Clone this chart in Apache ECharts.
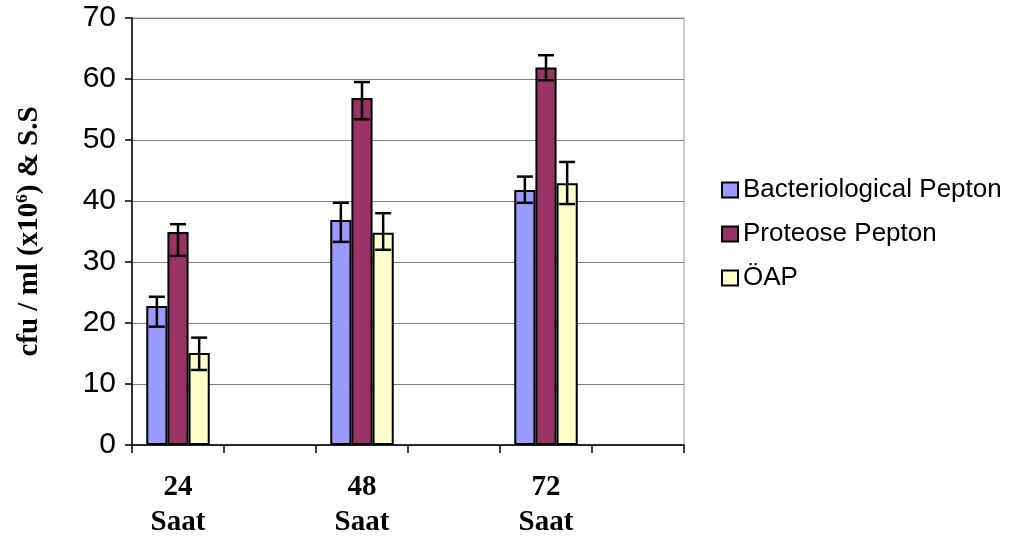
<!DOCTYPE html>
<html>
<head>
<meta charset="utf-8">
<script src="https://cdn.jsdelivr.net/npm/echarts@6/dist/echarts.min.js"></script>
<style>html,body{margin:0;padding:0;background:#fff}#c{width:1015px;height:545px}</style>
</head>
<body>
<div id="c"></div>
<script>
// Category slots (Excel chart with blank slots between groups)
const categories = ['24\nSaat', '', '48\nSaat', '', '72\nSaat', ''];
const seriesNames = ['Bacteriological Pepton', 'Proteose Pepton', 'ÖAP'];

const bacteriological = [22.8, null, 36.9, null, 41.8, null];
const proteose        = [34.9, null, 56.9, null, 61.9, null];
const oap             = [15.1, null, 34.8, null, 42.9, null];

// Error bars (low / high ends)
const bacteriologicalLow  = [19.4, null, 33.3, null, 39.7, null];
const bacteriologicalHigh = [24.3, null, 39.7, null, 44.0, null];
const proteoseLow         = [31.0, null, 53.4, null, 59.8, null];
const proteoseHigh        = [36.2, null, 59.5, null, 63.9, null];
const oapLow              = [12.3, null, 32.0, null, 39.5, null];
const oapHigh             = [17.6, null, 38.0, null, 46.4, null];

const yTicks = {min: 0, max: 70, interval: 10};

const colors = ['#9999FF', '#993366', '#FFFFCC'];
const gapRatio = 0.31;

const values = [bacteriological, proteose, oap];
const lows = [bacteriologicalLow, proteoseLow, oapLow];
const highs = [bacteriologicalHigh, proteoseHigh, oapHigh];

function errData(lo, hi) {
  const out = [];
  lo.forEach((v, i) => { if (v != null) out.push([i, v, hi[i]]); });
  return out;
}

function errSeries(k) {
  return {
    type: 'custom',
    name: 'err' + k,
    z: 5,
    data: errData(lows[k], highs[k]),
    encode: {x: 0, y: [1, 2]},
    renderItem: function (params, api) {
      const xi = api.value(0);
      const lo = api.coord([xi, api.value(1)]);
      const hi = api.coord([xi, api.value(2)]);
      const band = api.size([1, 0])[0];
      const bw = band * (1 - gapRatio) / 3;
      const x = lo[0] + (k - 1) * bw;
      const cap = 8;
      const st = {stroke: '#000', lineWidth: 2.5};
      return {
        type: 'group',
        children: [
          {type: 'line', shape: {x1: x, y1: lo[1], x2: x, y2: hi[1]}, style: st},
          {type: 'line', shape: {x1: x - cap, y1: lo[1], x2: x + cap, y2: lo[1]}, style: st},
          {type: 'line', shape: {x1: x - cap, y1: hi[1], x2: x + cap, y2: hi[1]}, style: st}
        ]
      };
    }
  };
}

const chart = echarts.init(document.getElementById('c'), null, {renderer: 'canvas'});
const barSeries = seriesNames.map((n, k) => ({
  type: 'bar',
  name: n,
  data: values[k],
  barGap: '0%',
  barCategoryGap: (gapRatio * 100) + '%',
  itemStyle: {color: colors[k], borderColor: '#000', borderWidth: 2},
  z: 2
}));

chart.setOption({
  animation: false,
  backgroundColor: '#fff',
  grid: {left: 132, right: 331, top: 18, bottom: 100, show: true, borderColor: '#999', borderWidth: 1},
  legend: {
    orient: 'vertical',
    left: 716,
    top: 172,
    itemWidth: 16,
    itemHeight: 15,
    itemGap: 18,
    icon: 'rect',
    data: seriesNames,
    textStyle: {fontFamily: 'Liberation Sans', fontSize: 26, color: '#000', padding: [0, 0, 0, 0]}
  },
  xAxis: {
    type: 'category',
    data: categories,
    boundaryGap: true,
    axisLine: {lineStyle: {color: '#000', width: 1.5}},
    axisTick: {show: true, interval: 0, alignWithLabel: false, length: 8, lineStyle: {color: '#000', width: 1.5}},
    axisLabel: {interval: 0, fontFamily: 'Liberation Serif', fontWeight: 'bold', fontSize: 29, lineHeight: 35, margin: 25, color: '#000'},
    splitLine: {show: false}
  },
  yAxis: {
    type: 'value',
    min: yTicks.min,
    max: yTicks.max,
    interval: yTicks.interval,
    name: '{a|cfu / ml (x10}{b|6}{a|) & S.S}',
    nameLocation: 'middle',
    nameGap: 86,
    nameRotate: 90,
    nameTextStyle: {
      color: '#000',
      rich: {
        a: {fontFamily: 'Liberation Serif', fontWeight: 'bold', fontSize: 29, lineHeight: 32, color: '#000'},
        b: {fontFamily: 'Liberation Serif', fontWeight: 'bold', fontSize: 17, lineHeight: 32, verticalAlign: 'top', color: '#000'}
      }
    },
    axisLine: {show: true, lineStyle: {color: '#000', width: 1.5}},
    axisTick: {show: true, length: 7, lineStyle: {color: '#000', width: 1.5}},
    axisLabel: {fontFamily: 'Liberation Sans', fontSize: 30, color: '#000', margin: 16},
    splitLine: {show: true, lineStyle: {color: '#808080', width: 1}}
  },
  series: barSeries.concat([errSeries(0), errSeries(1), errSeries(2)])
});
</script>
</body>
</html>
